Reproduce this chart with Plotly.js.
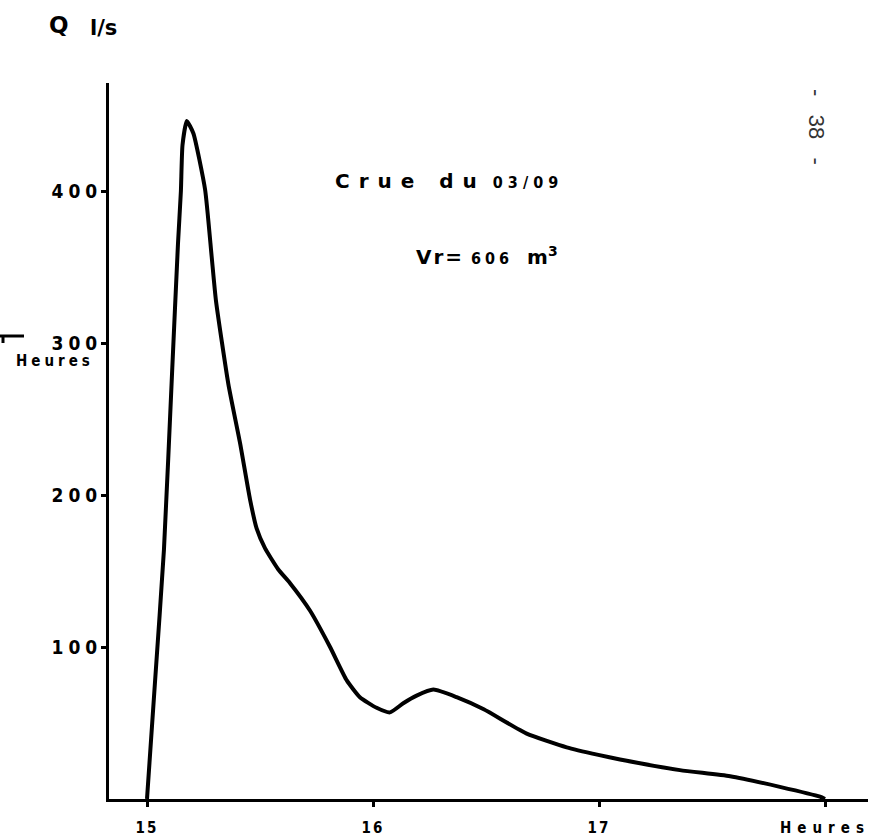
<!DOCTYPE html>
<html>
<head>
<meta charset="utf-8">
<script src="https://cdn.plot.ly/plotly-3.0.1.min.js"></script>
<style>
  html, body { margin: 0; padding: 0; background: #fff; }
  #chart { width: 869px; height: 837px; }
</style>
</head>
<body>
<div id="chart"></div>
<script>
const timeHours = [15.0, 15.035, 15.075, 15.112, 15.137, 15.150, 15.157, 15.176,
                   15.205, 15.257, 15.286, 15.305, 15.360, 15.412, 15.456, 15.485, 15.522, 15.581, 15.633, 15.721, 15.810,
                   15.884, 15.942, 16.016, 16.075, 16.134, 16.193, 16.267, 16.370, 16.490, 16.680, 16.857, 16.997, 17.093,
                   17.358, 17.580, 17.800, 17.978, 18.0];
const dischargeLs = [0, 76, 164, 284, 365, 400, 430, 446,
                     438, 401, 357, 328, 273, 234, 197, 178, 165, 151, 142, 124, 100,
                     78, 67, 60, 57, 63, 68, 72, 67, 59, 43, 34, 29, 26,
                     19, 15, 8, 1.5, 0];
const xTickVals = [15, 16, 17, 18];
const xTickLabels = ['15', '16', '17', 'Heures'];
const yTickVals = [100, 200, 300, 400];
const yTickLabels = ['100', '200', '300', '400'];
const titleText = 'Crue du';
const titleDate = '03/09';
const volumeLabel = 'Vr=';
const volumeValue = '606';
const volumeUnit = 'm<sup>3</sup>';
const yUnitLabel = 'Q';
const yUnitLabel2 = 'l/s';
const pageLabel = '-   38   -';
const leftNote = 'Heures';

// ---- geometry helpers (pixel -> paper) ----
const L = 109, R = 868, T = 83, B = 799;
const px = x => (x - L) / (R - L);
const py = y => (B - y) / (B - T);

const condFont = "'DejaVu Sans Condensed', 'Liberation Sans Narrow', sans-serif";
const sp = (s, ls) => '<span style="letter-spacing:' + ls + 'px">' + s + '</span>';

const trace = {
  x: timeHours,
  y: dischargeLs,
  type: 'scatter',
  mode: 'lines',
  line: { color: '#000', width: 4, shape: 'spline', smoothing: 0.5 },
  cliponaxis: false,
  hoverinfo: 'skip',
  showlegend: false
};

const layout = {
  width: 869,
  height: 837,
  margin: { l: L, r: 869 - R, t: T, b: 837 - B },
  paper_bgcolor: '#fff',
  plot_bgcolor: '#fff',
  showlegend: false,
  xaxis: {
    range: [15 - (147 - L) / 226, 15 + (R - 147) / 226],
    showline: true, linecolor: '#000', linewidth: 3,
    showgrid: false, zeroline: false,
    ticks: 'outside', ticklen: 5, tickwidth: 3, tickcolor: '#000',
    tickvals: xTickVals,
    ticktext: xTickLabels.map(t => t === 'Heures' ? sp(t, 6) : sp(t, 2)),
    tickfont: { family: condFont, size: 15, color: '#000', weight: 'bold' },
    ticklabelstandoff: 8,
    ticklabeloverflow: 'allow',
    automargin: false,
    fixedrange: true
  },
  yaxis: {
    range: [0, (B - T) / 1.52],
    showline: true, linecolor: '#000', linewidth: 3,
    showgrid: false, zeroline: false,
    ticks: 'outside', ticklen: 5, tickwidth: 3, tickcolor: '#000',
    tickvals: yTickVals,
    ticktext: yTickLabels.map(t => sp(t, 5)),
    tickfont: { family: condFont, size: 19, color: '#000', weight: 'bold' },
    ticklabelstandoff: -5,
    automargin: false,
    fixedrange: true
  },
  annotations: [
    { xref: 'paper', yref: 'paper', x: px(47), y: py(25), xanchor: 'left', yanchor: 'middle', showarrow: false,
      text: yUnitLabel, font: { family: 'DejaVu Sans', size: 23, color: '#000', weight: 'bold' } },
    { xref: 'paper', yref: 'paper', x: px(88), y: py(28), xanchor: 'left', yanchor: 'middle', showarrow: false,
      text: yUnitLabel2, font: { family: 'DejaVu Sans', size: 21, color: '#000', weight: 'bold' } },
    { xref: 'paper', yref: 'paper', x: px(333), y: py(181), xanchor: 'left', yanchor: 'middle', showarrow: false,
      text: sp(titleText, 9) + ' <span style="font-size:16px;letter-spacing:5px;font-family:DejaVu Sans Condensed">' + titleDate + '</span>',
      font: { family: 'DejaVu Sans', size: 20, color: '#000', weight: 'bold' } },
    { xref: 'paper', yref: 'paper', x: px(414), y: py(256), xanchor: 'left', yanchor: 'middle', showarrow: false,
      text: sp(volumeLabel, 2) + ' <span style="font-size:16px;letter-spacing:4px;font-family:DejaVu Sans Condensed">' + volumeValue + '</span>  ' + volumeUnit,
      font: { family: 'DejaVu Sans', size: 20, color: '#000', weight: 'bold' } },
    { xref: 'paper', yref: 'paper', x: px(55), y: py(361), xanchor: 'center', yanchor: 'middle', showarrow: false,
      text: sp(leftNote, 4), font: { family: condFont, size: 15, color: '#000', weight: 'bold' } },
    { xref: 'paper', yref: 'paper', x: px(817), y: py(127), xanchor: 'center', yanchor: 'middle', showarrow: false,
      textangle: 90, text: pageLabel, font: { family: 'Liberation Sans', size: 22, color: '#333' } }
  ],
  shapes: [
    { type: 'line', xref: 'paper', yref: 'paper', x0: px(0), x1: px(24), y0: py(336), y1: py(336),
      line: { color: '#000', width: 3 } },
    { type: 'line', xref: 'paper', yref: 'paper', x0: px(3), x1: px(3), y0: py(336), y1: py(343),
      line: { color: '#000', width: 3 } }
  ]
};

Plotly.newPlot('chart', [trace], layout, { staticPlot: true, displayModeBar: false });
</script>
</body>
</html>
